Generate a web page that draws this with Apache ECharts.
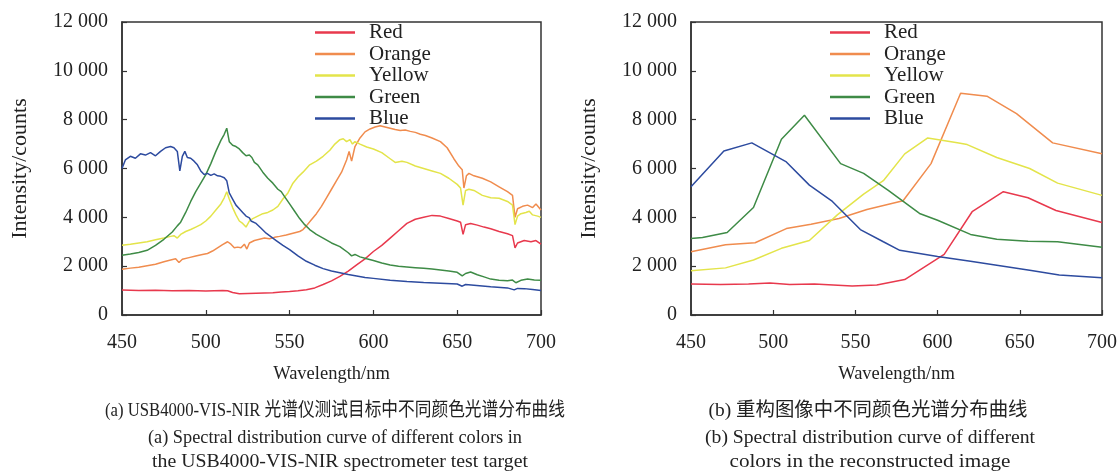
<!DOCTYPE html>
<html><head><meta charset="utf-8">
<script src="https://cdn.jsdelivr.net/npm/echarts@6/dist/echarts.min.js"></script>
<style>html,body{margin:0;padding:0;background:#fff}#c{width:1120px;height:474px}</style>
</head><body><div id="c"></div>
<script>
// ---------- DATA ----------
const seriesNames = ['Red','Orange','Yellow','Green','Blue'];
const seriesColors = ['#e8394d','#f08c4e','#e3e44a','#3e8b46','#2d4b9f'];
const xTicks = [450,500,550,600,650,700];
const yTicks = [0,2000,4000,6000,8000,10000,12000];

// (a) spectrometer measurements: [wavelength nm, counts]
const specRed = [[450,1020],[460,1000],[470,1010],[480,990],[490,1000],[500,980],[505,990],[510,1000],[513,990],[516,920],[520,870],[525,880],[530,890],[535,900],[540,910],[545,940],[550,960],[555,990],[560,1030],[565,1110],[570,1250],[575,1400],[580,1580],[585,1800],[590,2050],[595,2300],[600,2600],[605,2850],[610,3150],[615,3450],[620,3750],[625,3920],[630,4000],[635,4080],[640,4050],[645,3950],[650,3850],[652,3800],[653.5,3300],[655,3700],[658,3750],[662,3680],[666,3600],[670,3530],[675,3420],[680,3330],[683,3250],[684.5,2750],[686,2950],[690,3050],[694,3000],[697,3050],[700,2900]];
const specOrange = [[450,1870],[455,1920],[460,1960],[465,2020],[470,2080],[475,2180],[479,2250],[482,2300],[484,2150],[486,2280],[490,2350],[494,2420],[498,2480],[501,2520],[504,2620],[507,2750],[510,2880],[513,3000],[515,2900],[517,2750],[519,2780],[521,2750],[523,2900],[524.5,2700],[526,2950],[529,3050],[532,3100],[535,3150],[538,3120],[541,3180],[544,3220],[548,3280],[552,3350],[556,3420],[558,3500],[560,3650],[563,3900],[566,4150],[569,4450],[572,4800],[575,5150],[578,5500],[581,5850],[584,6350],[585.5,6700],[587,6300],[589,6900],[592,7250],[595,7500],[598,7620],[601,7700],[604,7750],[607,7700],[610,7650],[613,7600],[616,7560],[619,7580],[622,7520],[625,7480],[628,7400],[631,7350],[635,7250],[640,7100],[644,6850],[648,6400],[651,6100],[653,5950],[654,5200],[655.5,5700],[657,5800],[660,5700],[665,5600],[670,5450],[675,5250],[680,5050],[683,4900],[684.5,4000],[686,4350],[689,4450],[692,4500],[695,4400],[697,4550],[700,4300]];
const specYellow = [[450,2860],[455,2900],[460,2950],[465,3000],[470,3080],[475,3150],[479,3220],[481,3250],[483,3150],[485,3300],[488,3420],[491,3500],[494,3600],[497,3700],[500,3850],[503,4050],[506,4300],[509,4550],[511,4800],[512.5,5050],[514,4750],[516,4400],[518,4100],[520,3850],[522,3750],[524,3600],[526,3850],[528,3950],[531,4050],[534,4150],[537,4200],[540,4300],[543,4450],[546,4750],[549,5000],[552,5400],[555,5650],[558,5850],[562,6150],[566,6300],[570,6500],[574,6750],[577,7000],[580,7180],[582,7220],[584,7100],[586,7180],[587.5,7000],[589,7100],[592,7000],[596,6880],[600,6800],[605,6650],[610,6400],[613,6250],[617,6300],[620,6250],[625,6100],[630,6000],[635,5900],[640,5800],[645,5600],[650,5350],[652,5200],[653.5,4500],[655,5100],[657,5150],[660,5100],[665,4900],[670,4800],[675,4780],[680,4650],[683,4500],[684.5,3700],[686,4050],[688,4150],[691,4200],[693,4250],[695,4100],[698,4050],[700,4000]];
const specGreen = [[450,2450],[455,2500],[460,2560],[465,2650],[470,2850],[475,3100],[480,3400],[483,3650],[485,3800],[488,4200],[491,4650],[494,5050],[497,5400],[500,5750],[503,6200],[506,6700],[509,7150],[511,7400],[512.5,7650],[514,7100],[516,6950],[518,6900],[520,6800],[522,6650],[524,6520],[526,6550],[527.5,6450],[529,6250],[531,6150],[534,5850],[537,5600],[540,5400],[543,5150],[545,5050],[547,4850],[550,4550],[553,4250],[556,3950],[559,3700],[562,3500],[566,3300],[570,3150],[575,2950],[580,2800],[585,2550],[587,2420],[589,2480],[592,2380],[596,2300],[600,2230],[605,2130],[610,2050],[615,2000],[620,1970],[625,1940],[630,1910],[635,1880],[640,1840],[645,1800],[650,1750],[653,1600],[655,1700],[658,1760],[662,1650],[666,1560],[670,1470],[675,1420],[680,1400],[683,1430],[685,1320],[688,1420],[692,1470],[696,1430],[700,1420]];
const specBlue = [[450,6000],[452,6350],[455,6500],[458,6420],[461,6600],[464,6550],[467,6650],[470,6520],[473,6700],[476,6850],[479,6900],[481,6850],[483,6700],[484.5,5900],[486,6500],[487.5,6700],[489,6450],[491,6420],[493,6300],[495,6150],[497,5900],[499,5750],[501,5800],[503,5720],[505,5780],[507,5700],[509,5680],[511,5620],[512.5,5500],[514,5000],[516,4750],[518,4500],[520,4350],[522,4200],[524,4050],[526,3980],[527,3850],[528,3920],[530,3750],[533,3550],[536,3350],[539,3200],[542,3050],[546,2850],[550,2680],[555,2420],[560,2200],[565,2040],[570,1900],[575,1800],[580,1730],[585,1660],[590,1600],[595,1540],[600,1500],[610,1420],[620,1370],[630,1330],[640,1300],[650,1270],[653,1180],[655,1250],[660,1220],[670,1160],[680,1110],[684,1030],[686,1090],[690,1080],[695,1040],[700,1000]];

// (b) reconstructed image: [wavelength nm, counts]
const reconRed = [[450,1270],[468,1250],[485,1270],[498,1310],[510,1250],[525,1270],[548,1190],[563,1230],[580,1450],[604,2480],[621,4230],[640,5050],[655,4800],[672,4280],[700,3790]];
const reconOrange = [[450,2590],[471,2880],[489,2960],[508,3540],[523,3720],[540,3950],[557,4320],[579,4680],[596,6200],[614,9080],[630,8960],[648,8250],[670,7050],[700,6600]];
const reconYellow = [[450,1810],[471,1930],[488,2250],[505,2730],[522,3050],[539,4100],[555,4950],[567,5500],[580,6600],[594,7250],[612,7050],[618,6980],[636,6450],[656,6000],[673,5400],[700,4900]];
const reconGreen = [[450,3130],[457,3170],[472,3380],[488,4400],[505,7200],[519,8180],[541,6200],[555,5800],[570,5100],[589,4160],[600,3880],[620,3300],[636,3100],[655,3020],[673,3000],[700,2770]];
const reconBlue = [[450,5250],[470,6720],[487,7050],[508,6270],[522,5320],[536,4650],[553,3500],[567,3000],[577,2650],[600,2400],[620,2200],[640,2000],[657,1820],[674,1640],[700,1530]];

const xAxisName = 'Wavelength/nm';
const yAxisName = 'Intensity/counts';
const captionA = ['(a) USB4000-VIS-NIR 光谱仪测试目标中不同颜色光谱分布曲线','(a) Spectral distribution curve of different colors in','the USB4000-VIS-NIR spectrometer test target'];
const captionB = ['(b) 重构图像中不同颜色光谱分布曲线','(b) Spectral distribution curve of different','colors in the reconstructed image'];

// ---------- CHART ----------
const FONT = "'Liberation Serif','Noto Sans CJK SC',serif";
const TXT = '#222';
const AX = '#333';
const fmt = v => String(v).replace(/\B(?=(\d{3})+(?!\d))/g, ' ');

function mkX(gi){
  return {type:'value', gridIndex:gi, min:450, max:700, interval:50,
    name:xAxisName, nameLocation:'middle', nameGap:50,
    nameTextStyle:{fontFamily:FONT, fontSize:18.5, color:TXT},
    axisLine:{lineStyle:{color:AX, width:1.5}},
    axisTick:{inside:true, length:5, lineStyle:{color:AX, width:1.2}},
    axisLabel:{fontFamily:FONT, fontSize:20, color:TXT, margin:18},
    splitLine:{show:false}};
}
function mkY(gi){
  return {type:'value', gridIndex:gi, min:0, max:12000, interval:2000,
    name:yAxisName, nameLocation:'middle', nameGap:91, nameRotate:90,
    nameTextStyle:{fontFamily:FONT, fontSize:22, color:TXT},
    axisLine:{show:true, lineStyle:{color:AX, width:1.5}},
    axisTick:{show:true, inside:true, length:5, lineStyle:{color:AX, width:1.2}},
    axisLabel:{fontFamily:FONT, fontSize:20, color:TXT, margin:14, formatter:fmt},
    splitLine:{show:false}};
}
const specData = [specRed, specOrange, specYellow, specGreen, specBlue];
const reconData = [reconRed, reconOrange, reconYellow, reconGreen, reconBlue];
const series = [];
specData.forEach((d,i)=>series.push({name:seriesNames[i], type:'line', xAxisIndex:0, yAxisIndex:0, data:d, symbol:'none', lineStyle:{width:1.5, color:seriesColors[i]}, itemStyle:{color:seriesColors[i]}, animation:false}));
reconData.forEach((d,i)=>series.push({name:seriesNames[i], type:'line', xAxisIndex:1, yAxisIndex:1, data:d, symbol:'none', lineStyle:{width:1.5, color:seriesColors[i]}, itemStyle:{color:seriesColors[i]}, animation:false}));

function mkLegend(left){
  return {orient:'vertical', left:left, top:22, padding:0, icon:'rect', itemWidth:40, itemHeight:2.5, itemGap:0.5,
    data:seriesNames, selectedMode:false,
    textStyle:{fontFamily:FONT, fontSize:21, color:TXT, lineHeight:21, padding:[0,0,0,9]}};
}
const graphic = [];
const measureCtx = document.createElement('canvas').getContext('2d');
const CAP_SIZE = 19.5;
function addCaption(lines, centers, widths){
  const ys = [411, 438, 462];
  lines.forEach((t,k)=>{
    measureCtx.font = CAP_SIZE + 'px ' + FONT;
    const w = measureCtx.measureText(t).width;
    graphic.push({type:'text', x:centers[k], y:ys[k], scaleX: widths[k]/w,
      style:{text:t, fontFamily:FONT, fontSize:CAP_SIZE, fill:TXT, textAlign:'center', textVerticalAlign:'middle'}});
  });
}
addCaption(captionA, [335,335,340], [460,374,376]);
addCaption(captionB, [868,870,870], [319,330,281]);

const chart = echarts.init(document.getElementById('c'), null, {renderer:'canvas'});
chart.setOption({
  backgroundColor:'#fff',
  animation:false,
  grid:[
    {left:122, top:22, width:419, height:293, show:true, borderColor:AX, borderWidth:1.5, backgroundColor:'transparent'},
    {left:691, top:22, width:419, height:293, show:true, borderColor:AX, borderWidth:1.5, backgroundColor:'transparent'}
  ],
  xAxis:[mkX(0), mkX(1)],
  yAxis:[mkY(0), mkY(1)],
  legend:[mkLegend(315), mkLegend(830)],
  series:series,
  graphic:graphic
});
</script></body></html>
